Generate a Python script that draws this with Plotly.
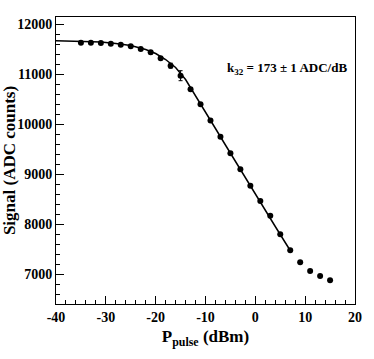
import plotly.graph_objects as go

# Data points (P_pulse in dBm, signal in ADC counts)
p_dbm = [-35, -33, -31, -29, -27, -25, -23, -21, -19, -17, -15, -13, -11, -9,
         -7, -5, -3, -1, 1, 3, 5, 7, 9, 11, 13, 15]
signal = [11627, 11625, 11620, 11607, 11587, 11553, 11500, 11433, 11313, 11167,
          10966, 10693, 10393, 10070, 9747, 9413, 9093, 8767, 8460, 8167, 7793,
          7473, 7233, 7060, 6960, 6873]
signal_err = [8, 8, 8, 8, 10, 12, 18, 30, 25, 50, 100, 25, 15, 12,
              12, 12, 12, 12, 12, 15, 12, 12, 10, 10, 10, 10]

# Fit curve
fit_x = [-40, -37, -34, -31, -28, -25, -22, -20, -18, -16, -14, -12, -10,
         -8, -6, -4, -2, 0, 2, 4, 6, 7]
fit_y = [11665, 11660, 11652, 11638, 11612, 11570, 11490, 11410, 11290, 11130,
         10890, 10570, 10235, 9910, 9580, 9250, 8920, 8600, 8280, 7950, 7630, 7470]

x_ticks = [-40, -30, -20, -10, 0, 10, 20]
x_tick_labels = ["-40", "-30", "-20", "-10", "0", "10", "20"]
y_ticks = [7000, 8000, 9000, 10000, 11000, 12000]
y_tick_labels = ["7000", "8000", "9000", "10000", "11000", "12000"]

font_family = "Liberation Serif, Times New Roman, serif"

fig = go.Figure()
fig.add_trace(go.Scatter(x=fit_x, y=fit_y, mode="lines",
                         line=dict(color="black", width=1.5), hoverinfo="skip"))
fig.add_trace(go.Scatter(x=p_dbm, y=signal, mode="markers",
                         marker=dict(color="black", size=6),
                         error_y=dict(type="data", array=signal_err, color="black",
                                      thickness=1, width=2)))

fig.add_annotation(
    xref="paper", yref="paper", x=0.98, y=0.82, xanchor="right", yanchor="middle",
    text="<b>k<sub>32</sub> = 173 ± 1 ADC/dB</b>", showarrow=False,
    font=dict(family=font_family, size=13, color="black"))

axis_common = dict(showline=True, linecolor="black", linewidth=1, mirror=True,
                   ticks="inside", tickcolor="black", tickwidth=1, showgrid=False,
                   zeroline=False, automargin=False,
                   tickfont=dict(family=font_family, size=14, color="black"))

fig.update_xaxes(range=[-40, 20], tickvals=x_ticks,
                 ticktext=["<b>%s</b>" % t for t in x_tick_labels],
                 ticklen=8, minor=dict(ticks="inside", ticklen=4, dtick=2,
                                       tickcolor="black", showgrid=False),
                 title=dict(text="<b>P<sub>pulse</sub> (dBm)</b>", standoff=6,
                            font=dict(family=font_family, size=17, color="black")),
                 **axis_common)
fig.update_yaxes(range=[6400, 12140], tickvals=y_ticks,
                 ticktext=["<b>%s</b>" % t for t in y_tick_labels],
                 ticklen=8, minor=dict(ticks="inside", ticklen=4, dtick=200,
                                       tick0=0, tickcolor="black", showgrid=False),
                 title=dict(text="<b>Signal (ADC counts)</b>", standoff=4,
                            font=dict(family=font_family, size=17, color="black")),
                 **axis_common)

fig.update_layout(width=374, height=359, showlegend=False,
                  font=dict(family=font_family, color="black"),
                  plot_bgcolor="white", paper_bgcolor="white",
                  margin=dict(l=56, r=19, t=17, b=55))

fig.write_html("out.html", config={"displayModeBar": False},
               post_script="document.body.style.margin='0';")
